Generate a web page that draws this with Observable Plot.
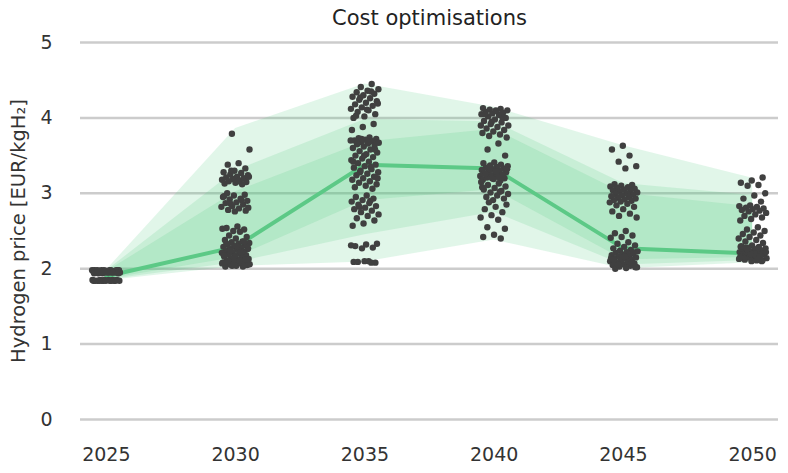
<!DOCTYPE html>
<html>
<head>
<meta charset="utf-8">
<script src="https://cdn.jsdelivr.net/npm/d3@7"></script>
<script src="https://cdn.jsdelivr.net/npm/@observablehq/plot@0.6"></script>
<style>
  html, body { margin: 0; padding: 0; background: #fff; }
</style>
</head>
<body>
<div id="chart"></div>
<script>
const title = "Cost optimisations";
const yLabel = "Hydrogen price [EUR/kgH₂]";
const years = [2025, 2030, 2035, 2040, 2045, 2050];
const yTicks = [0, 1, 2, 3, 4, 5];

const median  = [1.90, 2.29, 3.38, 3.33, 2.27, 2.20];
const outerLo = [1.84, 2.03, 2.09, 2.38, 2.00, 2.08];
const outerHi = [1.98, 3.86, 4.45, 4.14, 3.63, 3.20];
const midLo   = [1.85, 2.08, 2.45, 2.75, 2.05, 2.11];
const midHi   = [1.97, 3.30, 3.98, 3.95, 3.13, 2.97];
const innerLo = [1.86, 2.15, 2.90, 3.05, 2.12, 2.15];
const innerHi = [1.96, 3.02, 3.68, 3.85, 3.00, 2.82];

const p2025 = [1.98,1.98,1.97,1.98,1.97,1.98,1.97,1.98,1.98,1.97,1.98,1.97,1.98,1.97,1.98,1.97,1.98,1.97,
  1.95,1.95,1.94,1.95,1.95,1.94,1.95,1.95,1.94,1.95,1.95,1.94,1.95,1.95,
  1.84,1.84,1.85,1.84,1.84,1.85,1.84,1.84,1.85,1.84,1.84,1.85,1.84,1.84,1.85,1.84,1.84,1.85];
const p2030 = [3.79,3.58,3.40,3.38,
  3.33,3.30,3.28,3.27,3.25,3.24,3.22,3.21,3.20,3.19,3.18,3.17,3.16,3.15,3.14,3.13,3.12,3.30,3.22,3.16,
  3.00,2.98,2.97,2.95,2.93,2.92,2.90,2.88,2.87,2.85,2.83,2.82,2.80,2.78,2.77,2.76,2.96,2.91,2.86,2.81,
  2.56,2.54,2.52,2.50,2.53,2.49,
  2.44,2.42,2.40,2.38,2.36,2.35,2.34,2.33,2.32,2.31,2.30,2.29,2.28,2.27,2.26,2.25,2.24,2.23,2.22,2.21,
  2.20,2.19,2.18,2.17,2.16,2.15,2.14,2.13,2.12,2.11,2.10,2.09,2.08,2.07,2.06,2.05,2.04,2.03,2.03,2.04,
  2.06,2.08,2.10,2.12,2.15,2.18,2.21,2.24,2.27,2.30,2.33,2.36,2.05,2.07,2.11];
const p2035 = [4.45,4.41,4.38,4.36,4.34,4.32,4.30,4.28,4.26,4.24,4.22,4.20,4.18,4.16,4.14,4.12,4.10,4.08,4.05,4.02,4.00,4.35,4.27,4.19,4.11,4.03,
  3.92,3.88,3.84,
  3.74,3.73,3.72,3.71,3.70,3.69,3.68,3.67,3.66,3.65,3.64,3.62,3.60,3.58,3.56,3.54,3.52,3.50,3.48,3.46,
  3.44,3.42,3.40,3.38,3.36,3.34,3.32,3.30,3.28,3.26,3.24,3.22,3.20,3.18,3.16,3.14,3.12,3.10,3.08,3.06,
  3.72,3.70,3.68,3.66,3.58,3.50,3.42,3.35,3.28,3.20,
  2.97,2.95,2.93,2.91,2.89,2.87,2.85,2.83,2.81,2.79,2.77,2.75,2.72,2.70,2.67,2.64,2.60,2.57,2.90,2.82,
  2.33,2.32,2.30,2.28,2.27,2.31,
  2.10,2.09,2.08,2.10,2.09,2.08];
const p2040 = [4.13,4.12,4.11,4.10,4.09,4.08,4.07,4.06,4.05,4.04,4.02,4.00,3.98,3.96,3.94,3.92,3.90,3.88,3.86,3.84,3.82,3.80,3.78,3.76,3.74,4.10,4.05,4.00,3.95,3.90,
  3.66,3.58,3.50,
  3.41,3.40,3.38,3.37,3.36,3.35,3.34,3.33,3.32,3.31,3.30,3.29,3.28,3.27,3.26,3.25,3.24,3.23,3.22,3.21,3.20,3.19,3.18,3.17,3.35,3.32,3.29,3.26,3.23,3.20,
  3.15,3.13,3.11,3.09,3.07,3.05,3.03,3.01,2.99,2.97,2.95,2.93,2.91,3.08,3.02,
  2.88,2.85,2.82,2.79,2.75,2.71,2.68,2.65,
  2.55,2.53,2.45,2.42,2.40];
const p2045 = [3.63,3.58,3.50,3.42,3.36,3.33,
  3.12,3.11,3.10,3.09,3.08,3.07,3.06,3.05,3.04,3.03,3.02,3.01,3.00,2.99,2.98,2.97,2.96,2.95,2.94,2.93,2.92,2.91,2.90,2.89,2.88,
  2.86,2.84,2.82,2.79,2.76,2.73,2.70,2.68,
  2.50,2.47,2.44,2.42,2.41,
  2.35,2.33,2.31,2.29,2.27,2.25,2.24,2.23,2.22,2.21,2.20,2.19,2.18,2.17,2.16,2.15,2.14,2.13,2.12,2.11,
  2.10,2.09,2.08,2.07,2.06,2.05,2.04,2.03,2.02,2.01,2.00,2.22,2.18,2.14,2.10,2.06,2.02,2.16,2.12,2.08];
const p2050 = [3.21,3.17,3.14,3.11,3.10,
  3.00,2.97,2.93,2.89,
  2.84,2.83,2.82,2.81,2.80,2.79,2.78,2.77,2.76,2.74,2.72,2.70,2.68,2.66,2.64,
  2.55,2.52,2.50,2.48,2.46,2.44,2.42,2.40,2.38,2.36,2.34,2.31,
  2.30,2.29,2.28,2.27,2.26,2.25,2.24,2.23,2.22,2.21,2.20,2.19,2.18,2.17,2.16,2.15,2.14,2.13,2.12,2.11,2.10,
  2.29,2.27,2.25,2.23,2.21,2.19,2.17,2.15,2.13,2.11,2.28,2.24,2.20,2.16,2.12,2.26,2.22,2.18,2.14,2.10,2.19,2.15,2.13];

const pointSets = [p2025, p2030, p2035, p2040, p2045, p2050];

// table for bands / median line
const bands = years.map((yr, i) => ({
  year: yr, median: median[i],
  oLo: outerLo[i], oHi: outerHi[i],
  mLo: midLo[i], mHi: midHi[i],
  iLo: innerLo[i], iHi: innerHi[i]
}));

// stripplot points with deterministic jitter
const points = [];
pointSets.forEach((vals, k) => {
  vals.forEach((v, i) => {
    const u = ((i * 0.61803398875 + k * 0.37) % 1);
    points.push({ year: years[k], jit: (u - 0.5) * 1.1, value: v });
  });
});

const green = "#4fc97c";
const font = "DejaVu Sans, sans-serif";

const chart = Plot.plot({
  width: 788,
  height: 473,
  marginTop: 42,
  marginBottom: 54,
  marginLeft: 80,
  marginRight: 10,
  style: { fontFamily: font, fontSize: "19px", color: "#333", background: "#fff" },
  x: { domain: [2024, 2051], label: null },
  y: { domain: [0, 5], label: null },
  marks: [
    Plot.ruleY(yTicks, { stroke: "#cccccc", strokeWidth: 2.5 }),
    Plot.areaY(bands, { x: "year", y1: "oLo", y2: "oHi", fill: green, fillOpacity: 0.17 }),
    Plot.areaY(bands, { x: "year", y1: "mLo", y2: "mHi", fill: green, fillOpacity: 0.17 }),
    Plot.areaY(bands, { x: "year", y1: "iLo", y2: "iHi", fill: green, fillOpacity: 0.17 }),
    Plot.lineY(bands, { x: "year", y: "median", stroke: "#5cc986", strokeWidth: 4 }),
    Plot.dot(points, { x: d => d.year + d.jit, y: "value", r: 3.2, fill: "#404040", stroke: "none" }),
    Plot.axisX({ ticks: years, tickFormat: d => String(d), tickSize: 0, tickPadding: 28, fontSize: 19, fill: "#333", label: null }),
    Plot.axisY({ ticks: yTicks, tickFormat: d => String(d), tickSize: 0, tickPadding: 28, fontSize: 19, fill: "#333", label: null }),
    Plot.text([title], { frameAnchor: "top", dy: -24, fontSize: 21, fill: "#222", lineAnchor: "middle", textAnchor: "middle" }),
    Plot.text([yLabel], { frameAnchor: "left", dx: -62, rotate: -90, fontSize: 19.5, fill: "#333", lineAnchor: "middle", textAnchor: "middle" })
  ]
});

document.getElementById("chart").appendChild(chart);
</script>
</body>
</html>
